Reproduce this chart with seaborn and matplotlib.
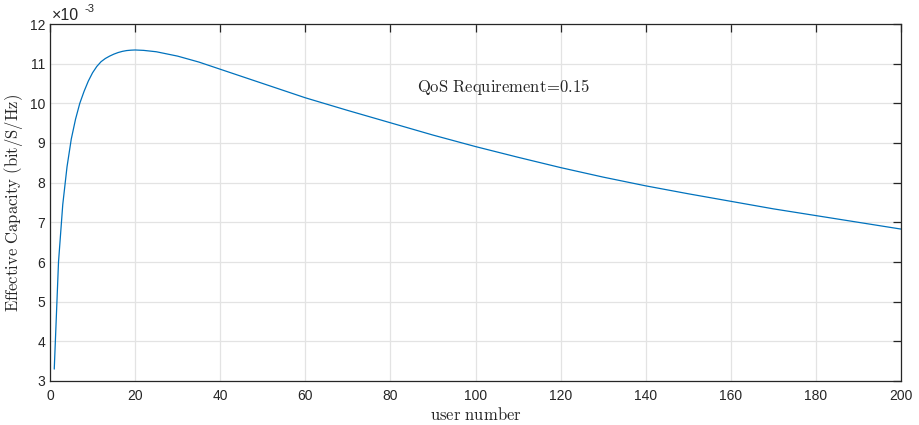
import matplotlib
matplotlib.use("Agg")
import matplotlib.pyplot as plt
import seaborn as sns
import pandas as pd

# data (effective capacity in units of 1e-3 bit/S/Hz)
user_number = [1, 2, 3, 4, 5, 6, 7, 8, 9, 10, 11, 12, 13, 14, 15, 16, 17, 18,
               19, 20, 22, 25, 30, 35, 40, 50, 60, 70, 80, 90, 100, 110, 120,
               130, 140, 150, 160, 170, 180, 190, 200]
capacity = [3.3, 6.0, 7.45, 8.4, 9.1, 9.6, 10.0, 10.3, 10.56, 10.77, 10.93,
            11.05, 11.13, 11.19, 11.24, 11.28, 11.31, 11.33, 11.34, 11.345,
            11.335, 11.30, 11.19, 11.04, 10.86, 10.50, 10.14, 9.82, 9.51, 9.20,
            8.91, 8.64, 8.38, 8.14, 7.92, 7.72, 7.53, 7.34, 7.17, 7.00, 6.83]
x_ticks = [0, 20, 40, 60, 80, 100, 120, 140, 160, 180, 200]
y_ticks = [3, 4, 5, 6, 7, 8, 9, 10, 11, 12]

df = pd.DataFrame({"x": user_number, "y": capacity})

sns.set_style("white")
plt.rcParams["font.family"] = ["Liberation Sans", "DejaVu Sans"]
plt.rcParams["mathtext.fontset"] = "cm"

fig = plt.figure(figsize=(9.2, 4.25), dpi=100)
ax = fig.add_axes([50 / 920, 1 - 381 / 425, 851 / 920, 357 / 425])

sns.lineplot(data=df, x="x", y="y", ax=ax, color="#0072BD", linewidth=0.9)

ax.set_xlim(0, 200)
ax.set_ylim(3, 12)
ax.set_xticks(x_ticks)
ax.set_yticks(y_ticks)
ax.grid(True, color="#e3e3e3", linewidth=0.9)
ax.set_axisbelow(True)
for s in ax.spines.values():
    s.set_visible(True)
    s.set_color("#262626")
    s.set_linewidth(0.9)
ax.tick_params(direction="in", length=5.5, width=0.9, color="#262626",
               labelsize=10, labelcolor="#262626", top=True, right=True,
               labeltop=False, labelright=False)
ax.tick_params(axis="x", pad=6)

ax.set_xlabel(r"$\mathrm{user\ number}$", fontsize=12, color="#262626", labelpad=2)
ax.set_ylabel(r"$\mathrm{Effective\ Capacity\ (bit/S/Hz)}$", fontsize=12,
              color="#262626", labelpad=3)
fig.text(52 / 920, 1 - 20.5 / 425, "×10", fontsize=11.5, ha="left", va="baseline",
         color="#262626")
fig.text(85 / 920, 1 - 12 / 425, "-3", fontsize=8, ha="left", va="baseline",
         color="#262626")
ax.text(86.3, 10.41, r"$\mathrm{QoS\ Requirement}\!=\!\mathrm{0.15}$", fontsize=12,
        ha="left", va="center", color="#262626")

fig.savefig("out.png", dpi=100)
